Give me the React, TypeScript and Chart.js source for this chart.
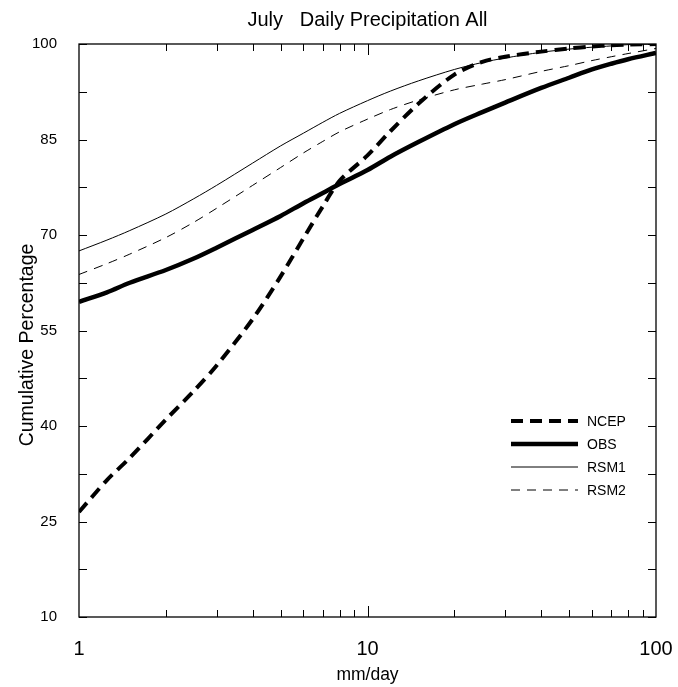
import React, { useEffect, useRef } from "react";
import { Chart, registerables } from "chart.js";

Chart.register(...registerables);

const xValues = [1, 1.25, 1.5, 2, 2.5, 3, 4, 5, 6, 7, 8, 10, 12, 15, 20, 25, 30, 40, 50, 60, 70, 80, 100];
const ncep = [26.5, 31.5, 35, 41, 45.5, 49.5, 56.8, 63.5, 69.5, 74.5, 78.5, 82.5, 86.3, 90.6, 95.2, 97.2, 98, 98.8, 99.3, 99.6, 99.8, 99.9, 100];
const obs = [59.5, 61, 62.5, 64.5, 66.3, 68, 70.8, 73, 75, 76.6, 78, 80.2, 82.3, 84.6, 87.4, 89.3, 90.8, 93.1, 94.7, 96, 96.9, 97.6, 98.6];
const rsm1 = [67.5, 69.2, 70.7, 73.3, 75.7, 77.8, 81.3, 84, 86, 87.7, 89.1, 91.1, 92.6, 94.2, 96, 97.1, 97.8, 98.7, 99.2, 99.5, 99.7, 99.9, 100];
const rsm2 = [63.8, 65.5, 67, 69.6, 72, 74.2, 77.8, 80.6, 82.9, 84.7, 86.2, 88.2, 89.7, 91.2, 92.8, 93.7, 94.4, 95.7, 96.6, 97.4, 98, 98.5, 99.3];

const xTickLabels = [1, 10, 100];
const yTicks = [10, 25, 40, 55, 70, 85, 100];
const titleText = "July   Daily Precipitation All";
const xTitle = "mm/day";
const yTitle = "Cumulative Percentage";

const FONT = "'Liberation Sans', Arial, Helvetica, sans-serif";

const toPoints = (ys: number[]) => xValues.map((x, i) => ({ x, y: ys[i] }));

const framePlugin = {
  id: "framePlugin",
  afterDraw(chart: any) {
    const ctx = chart.ctx;
    const { left, right, top, bottom } = chart.chartArea;
    const xs = chart.scales.x;
    const ys = chart.scales.y;
    ctx.save();
    ctx.strokeStyle = "#000";
    ctx.lineWidth = 1.3;
    ctx.strokeRect(left, top, right - left, bottom - top);
    ctx.lineWidth = 1;
    ctx.beginPath();
    for (let v = 10; v <= 100.01; v += 7.5) {
      const py = Math.round(ys.getPixelForValue(v)) + 0.5;
      ctx.moveTo(left, py);
      ctx.lineTo(left + 8, py);
      ctx.moveTo(right, py);
      ctx.lineTo(right - 8, py);
    }
    for (let d = 1; d <= 10; d *= 10) {
      for (let m = 2; m <= 10; m++) {
        const v = d * m;
        if (v >= 100) continue;
        const len = m === 10 ? 11 : 7;
        const px = Math.round(xs.getPixelForValue(v)) + 0.5;
        ctx.moveTo(px, bottom);
        ctx.lineTo(px, bottom - len);
        ctx.moveTo(px, top);
        ctx.lineTo(px, top + len);
      }
    }
    ctx.stroke();

    // titles
    ctx.fillStyle = "#000";
    ctx.textAlign = "center";
    ctx.textBaseline = "alphabetic";
    ctx.font = `20px ${FONT}`;
    ctx.fillText(titleText, (left + right) / 2, 26);
    ctx.textBaseline = "middle";
    ctx.font = `17.5px ${FONT}`;
    ctx.fillText(xTitle, (left + right) / 2, 675);
    ctx.save();
    ctx.font = `19.5px ${FONT}`;
    ctx.translate(28, 345);
    ctx.rotate(-Math.PI / 2);
    ctx.fillText(yTitle, 0, 0);
    ctx.restore();

    // legend
    const rows = [421, 444, 467, 490];
    ctx.textAlign = "left";
    ctx.font = `14px ${FONT}`;
    chart.data.datasets.forEach((ds: any, i: number) => {
      const y = rows[i];
      ctx.beginPath();
      ctx.lineWidth = ds.borderWidth;
      ctx.setLineDash(ds.borderDash || []);
      ctx.moveTo(right - 145, y);
      ctx.lineTo(right - 78, y);
      ctx.stroke();
      ctx.setLineDash([]);
      ctx.fillText(ds.label, right - 69, y + 1);
    });
    ctx.restore();
  },
};

export default function App() {
  const ref = useRef<HTMLCanvasElement | null>(null);
  useEffect(() => {
    if (!ref.current) return;
    const chart = new Chart(ref.current, {
      type: "line",
      data: {
        datasets: [
          { label: "NCEP", data: toPoints(ncep), borderColor: "#000", borderWidth: 4, borderDash: [12, 7], pointRadius: 0, tension: 0.3, fill: false },
          { label: "OBS", data: toPoints(obs), borderColor: "#000", borderWidth: 4.5, pointRadius: 0, tension: 0.3, fill: false },
          { label: "RSM1", data: toPoints(rsm1), borderColor: "#000", borderWidth: 1, pointRadius: 0, tension: 0.3, fill: false },
          { label: "RSM2", data: toPoints(rsm2), borderColor: "#000", borderWidth: 1, borderDash: [9, 7], pointRadius: 0, tension: 0.3, fill: false },
        ],
      },
      options: {
        animation: false,
        responsive: true,
        maintainAspectRatio: false,
        layout: { padding: { top: 44, right: 22, left: 0, bottom: 0 } },
        plugins: { legend: { display: false }, title: { display: false }, tooltip: { enabled: false } },
        scales: {
          x: {
            type: "logarithmic",
            min: 1,
            max: 100,
            grid: { display: false },
            border: { display: false },
            afterBuildTicks: (s: any) => {
              s.ticks = xTickLabels.map((v) => ({ value: v }));
            },
            afterFit: (s: any) => {
              s.height = 70;
              s.paddingLeft = 0;
              s.paddingRight = 0;
            },
            ticks: {
              autoSkip: false,
              maxRotation: 0,
              padding: 12,
              color: "#000",
              font: { family: FONT, size: 20 },
              callback: (v: any) => String(v),
            },
          },
          y: {
            type: "linear",
            min: 10,
            max: 100,
            grid: { display: false },
            border: { display: false },
            afterBuildTicks: (s: any) => {
              s.ticks = yTicks.map((v) => ({ value: v }));
            },
            afterFit: (s: any) => {
              s.width = 79;
              s.paddingTop = 0;
              s.paddingBottom = 0;
            },
            ticks: {
              padding: 14,
              color: "#000",
              font: { family: FONT, size: 15 },
            },
          },
        },
      },
      plugins: [framePlugin],
    });
    return () => chart.destroy();
  }, []);
  return (
    <div style={{ position: "fixed", left: 0, top: 0, width: 678, height: 687, background: "#fff" }}>
      <canvas ref={ref} />
    </div>
  );
}
